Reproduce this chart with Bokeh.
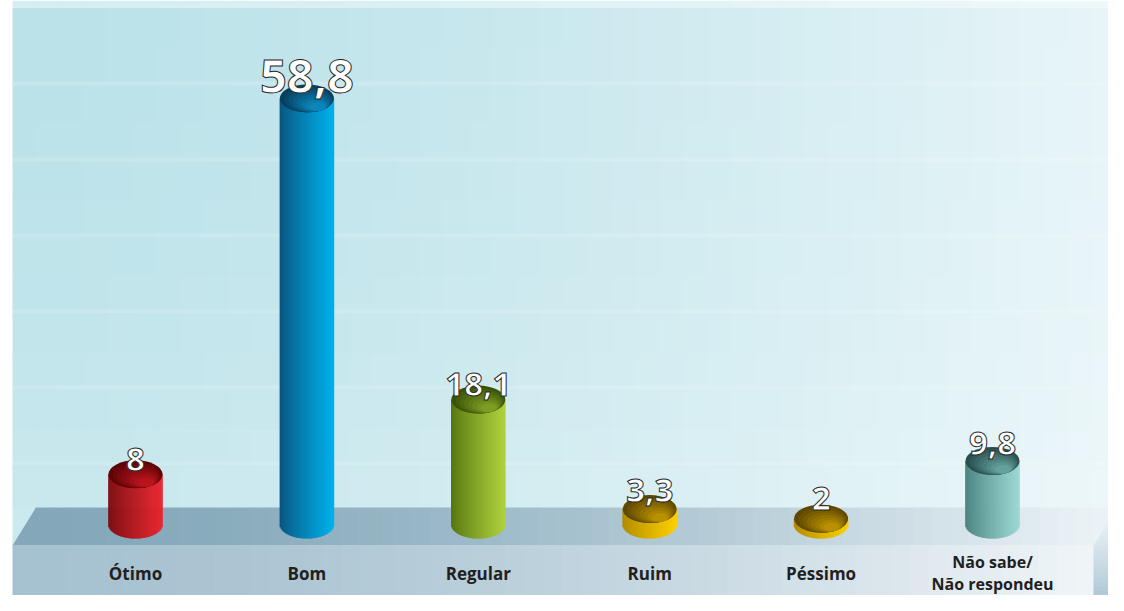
import numpy as np
from bokeh.plotting import figure
from bokeh.models import Range1d, ColumnDataSource
from bokeh.core.properties import value
from bokeh.embed import file_html
from bokeh.resources import INLINE

# ---------------- data ----------------
categories = ["Ótimo", "Bom", "Regular", "Ruim", "Péssimo", "Não sabe/\nNão respondeu"]
values = [8, 58.8, 18.1, 3.3, 2, 9.8]
value_labels = ["8", "58,8", "18,1", "3,3", "2", "9,8"]

# ---------------- styles ----------------
side_left = ["#7a080d", "#0a5580", "#55750f", "#b08a00", "#b08a00", "#447f7c"]
side_right = ["#ea222b", "#00b0ea", "#aed03c", "#fbce00", "#fbce00", "#9ad6d2"]
top_dark = ["#5e0407", "#083f5c", "#3a5208", "#5e4700", "#5e4700", "#284f4d"]
top_light = ["#b8141d", "#0a86bb", "#7c9c22", "#b89000", "#b89000", "#64a09c"]
label_sizes = ["33px", "47px", "33px", "33px", "33px", "33px"]
label_lift_px = [15, 22, 15, 19, 20, 17]
cat_tops = [561, 561, 561, 561, 561, 550]
cat_sizes = ["17px", "17px", "17px", "17px", "17px", "16px"]

W, H = 1108, 595
REF_X0, REF_Y0 = 0, 0
X_STEP, X0_REF = 171.4, 135
PPU, ZERO_REF = 7.4, 533
BASE = 1.2
BAR_W = 54 / X_STEP
ELL_H = 28
x_start = (REF_X0 - X0_REF) / X_STEP
x_end = (REF_X0 + W - X0_REF) / X_STEP
y_start = (ZERO_REF - (REF_Y0 + H)) / PPU
y_end = (ZERO_REF - REF_Y0) / PPU


def hex2rgb(h):
    h = h.lstrip("#")
    return np.array([int(h[i:i + 2], 16) for i in (0, 2, 4)], dtype=float)


def mix(a, b, t):
    c = a + (b - a) * t
    return "#%02x%02x%02x" % tuple(int(round(v)) for v in np.clip(c, 0, 255))


p = figure(width=W, height=H, x_range=Range1d(x_start, x_end), y_range=Range1d(y_start, y_end),
           output_backend="svg", toolbar_location=None, min_border=0,
           x_axis_location=None, y_axis_location=None)
p.grid.visible = False
p.outline_line_color = None
p.background_fill_color = "white"
p.border_fill_color = "white"
p.extra_x_ranges = {"px": Range1d(REF_X0, REF_X0 + W)}
p.extra_y_ranges = {"py": Range1d(REF_Y0 + H, REF_Y0)}
PX = dict(x_range_name="px", y_range_name="py")

# ---------------- background wall ----------------
BG_L, BG_R = hex2rgb("#bbe2e9"), hex2rgb("#e8f5f8")
WALL_TOP = 7
xs = np.linspace(12, 1116, 47)
ys = np.linspace(WALL_TOP, 545, 15)
l, r, t, b, cols = [], [], [], [], []
for i in range(len(xs) - 1):
    for j in range(len(ys) - 1):
        tx = ((xs[i] + xs[i + 1]) / 2 - 12) / 1104
        ty = ((ys[j] + ys[j + 1]) / 2 - WALL_TOP) / (545 - WALL_TOP)
        c = BG_L + (BG_R - BG_L) * tx ** 1.5
        c = c + (255 - c) * 0.25 * ty ** 2
        l.append(xs[i]); r.append(xs[i + 1] + 0.6); t.append(ys[j]); b.append(ys[j + 1] + 0.6)
        cols.append(mix(c, c, 0))
p.quad(left=l, right=r, top=t, bottom=b, fill_color=cols, line_color=None, **PX)
# light top band
tb = np.linspace(12, 1116, 24)
p.quad(left=tb[:-1], right=tb[1:] + 0.6, top=[0] * 23, bottom=[WALL_TOP] * 23,
       fill_color=[mix(hex2rgb("#d6eef2"), hex2rgb("#f0f9fb"), ((a - 12) / 1104) ** 1.5) for a in tb[:-1]],
       line_color=None, **PX)
stripe_y = [83, 159, 235, 311, 387, 463]
p.segment(x0=[12] * 6, x1=[1116] * 6, y0=stripe_y, y1=stripe_y, line_color="white",
          line_alpha=0.16, line_width=4, **PX)

# ---------------- floor ----------------
FT_L, FT_R = hex2rgb("#84a8ba"), hex2rgb("#eaf2f6")
FF_L, FF_R = hex2rgb("#a6c1d0"), hex2rgb("#f0f5f8")
fx = np.linspace(35, 1093, 60)
l, r, ct = [], [], []
for i in range(len(fx) - 1):
    tx = ((fx[i] + fx[i + 1]) / 2 - 35) / (1093 - 35)
    l.append(fx[i]); r.append(fx[i + 1] + 0.6)
    ct.append(mix(FT_L, FT_R, tx ** 1.6))
p.quad(left=l, right=r, top=[507] * len(l), bottom=[545] * len(l), fill_color=ct,
       line_color=None, **PX)
p.patch(x=[12, 35.5, 35.5], y=[545, 507, 545], fill_color=mix(FT_L, FT_L, 0), line_color=None, **PX)
p.patch(x=[1092.5, 1115, 1092.5], y=[507, 507, 545], fill_color=mix(FT_R, FT_R, 0), line_color=None, **PX)
fx2 = np.linspace(12, 1093, 60)
l2, r2, cf2 = [], [], []
for i in range(len(fx2) - 1):
    tx = ((fx2[i] + fx2[i + 1]) / 2 - 12) / (1093 - 12)
    l2.append(fx2[i]); r2.append(fx2[i + 1] + 0.6)
    cf2.append(mix(FF_L, FF_R, tx ** 1.6))
p.quad(left=l2, right=r2, top=[545] * len(l2), bottom=[REF_Y0 + H] * len(l2), fill_color=cf2,
       line_color=None, **PX)
# side face
SD_B, SD_T = hex2rgb("#a9c5d4"), hex2rgb("#eef4f7")
sy = np.linspace(508, REF_Y0 + H, 20)


def slant_x(y):
    return 1115 - (min(max(y, 508), 545) - 508) / 37 * 22


for j in range(len(sy) - 1):
    ty = 1 - (sy[j] - 508) / (REF_Y0 + H - 508)
    y0, y1 = sy[j], sy[j + 1] + 0.6
    xa0, xa1 = slant_x(y0), slant_x(y1)
    p.patch(x=[xa0, 1115, 1115, xa1], y=[y0, y0, y1, y1],
            fill_color=mix(SD_B, SD_T, ty ** 0.8), line_color=None, **PX)

# ---------------- cylinders ----------------
N = 54
ry_data = (ELL_H / 2) / PPU
sx, stop, sbot, scol = [], [], [], []
for i, v in enumerate(values):
    cl, cr = hex2rgb(side_left[i]), hex2rgb(side_right[i])
    for k in range(N):
        dx = -BAR_W / 2 + (k + 0.5) * BAR_W / N
        tt = k / (N - 1)
        sx.append(i + dx)
        stop.append(v)
        sbot.append(BASE - ry_data * np.sqrt(max(0.0, 1 - (2 * dx / BAR_W) ** 2)))
        scol.append(mix(cl, cr, tt ** 0.85))
p.vbar(x=sx, top=stop, bottom=sbot, width=BAR_W / N * 1.6, fill_color=scol, line_color=None)

# top ellipses (layered for a shading effect)
LAYERS = 8
ex, ey, ew, eh, ec = [], [], [], [], []
for j in range(LAYERS):
    s = 1 - 0.1 * j
    for i, v in enumerate(values):
        cd, cl = hex2rgb(top_dark[i]), hex2rgb(top_light[i])
        ex.append(i + (1 - s) * BAR_W / 2 * 0.55)
        ey.append(v - (1 - s) * (ELL_H / 2) * 0.85 / PPU)
        ew.append(BAR_W * s)
        eh.append(ELL_H * s)
        ec.append(mix(cd, cl, j / (LAYERS - 1)))
p.ellipse(x=ex, y=ey, width=ew, height=eh, height_units="screen",
          fill_color=ec, line_color=None)

# ---------------- labels ----------------
label_y = [v + lift / PPU for v, lift in zip(values, label_lift_px)]
src = ColumnDataSource(dict(x=list(range(len(values))), y=label_y, text=value_labels,
                            size=label_sizes))
p.text(x="x", y="y", text="text", source=src, text_font=value("Open Sans"),
       text_font_style="bold", text_font_size="size", text_color="white",
       text_outline_color="#2a2a2a", text_align="center", text_baseline="alphabetic")

csrc = ColumnDataSource(dict(x=list(range(len(categories))), y=cat_tops, text=categories,
                             size=cat_sizes))
p.text(x="x", y="y", text="text", source=csrc, y_range_name="py",
       text_font=value("Open Sans"), text_font_style="bold", text_font_size="size",
       text_color="#231f20", text_align="center", text_baseline="top",
       text_line_height=1.0)

open("out.html", "w").write(file_html(p, INLINE))
